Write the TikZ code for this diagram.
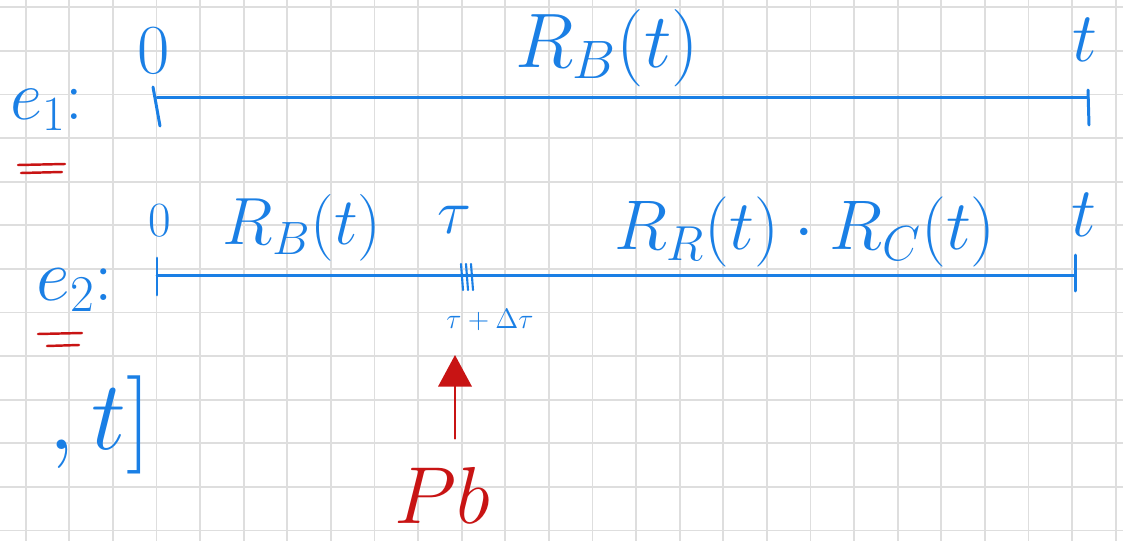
\RequirePackage{fix-cm}
\documentclass[tikz,border=0pt]{standalone}
\usepackage{tikz}
\usetikzlibrary{arrows.meta}
\definecolor{PenBlue}{HTML}{1A7FE5}
\definecolor{PenRed}{HTML}{C81414}
\definecolor{GridGray}{HTML}{DEDEDE}
\newcommand{\handsize}[1]{\fontsize{#1}{#1}\selectfont}

\begin{document}
\begin{tikzpicture}[x=0.02cm,y=-0.02cm,
  pen/.style={draw=PenBlue,line width=1.7pt,line cap=round},
  redpen/.style={draw=PenRed,line width=1.4pt,line cap=round},
  ink/.style={text=PenBlue,inner sep=0pt}]
  \fill[white] (0,0) rectangle (1123,541);
  \useasboundingbox (0,0) rectangle (1123,541);
  \foreach \i in {0,...,25}
    \draw[GridGray,line width=1.1pt] (25.7+43.6*\i,0) -- (25.7+43.6*\i,541);
  \foreach \j in {0,...,12}
    \draw[GridGray,line width=1.1pt] (0,7.3+43.6*\j) -- (1123,7.3+43.6*\j);

  % e_1
  \coordinate (l1s) at (157,97.7);
  \coordinate (l1e) at (1088,97.7);
  \draw[pen] (l1s) -- (l1e);
  \draw[pen] (153,87) -- (160,126);
  \draw[pen] (1088,90) -- (1089,125);
  \node[ink,font={\handsize{40}}] (zeroA) at (154,51) {$0$};
  \node[ink,font={\handsize{44}}] (rbA) at (607,48) {$R_B(t)$};
  \node[ink,font={\handsize{40}}] (tA) at (1085,40) {$t$};
  \node[ink,font={\handsize{40}}] (eA) at (47,110) {$e_1$:};
  \draw[redpen] (18,165) -- (65,164);
  \draw[redpen] (21,173) -- (62,172);

  % e_2
  \coordinate (l2s) at (157,275.5);
  \coordinate (l2e) at (1075,275.5);
  \draw[pen] (l2s) -- (l2e);
  \draw[pen] (157,258) -- (157,295);
  \draw[pen] (1075,255) -- (1075,291);
  \foreach \dx in {0,5,10}
    \draw[pen,line width=1.2pt] (461+\dx,264) -- (463+\dx,290);
  \node[ink,font={\handsize{28}}] (zeroB) at (160,221) {$0$};
  \node[ink,font={\handsize{38}}] (rbB) at (302,228) {$R_B(t)$};
  \node[ink,font={\handsize{36}}] (tau) at (454,220) {$\tau$};
  \node[ink,font={\handsize{16}}] (taud) at (490,320) {$\tau+\Delta\tau$};
  \node[ink,font={\handsize{40}}] (rrc) at (805,232) {$R_R(t)\cdot R_C(t)$};
  \node[ink,font={\handsize{40}}] (tB) at (1084,215) {$t$};
  \node[ink,font={\handsize{42}}] (eB) at (75,290) {$e_2$:};
  \draw[redpen] (38,334) -- (82,333);
  \draw[redpen] (47,346) -- (79,345);

  \node[ink,font={\handsize{56}}] (ivl) at (100,425) {$,t]$};

  % Pb
  \node[text=PenRed,inner sep=0pt,font={\handsize{46}}] (pb) at (442,495) {$Pb$};
  \coordinate (pbtip) at (455,355);
  \draw[redpen,shorten <=16pt,-{Triangle[width=19pt,length=18pt]}] (pb.north -| pbtip) -- (pbtip);
\end{tikzpicture}
\end{document}
